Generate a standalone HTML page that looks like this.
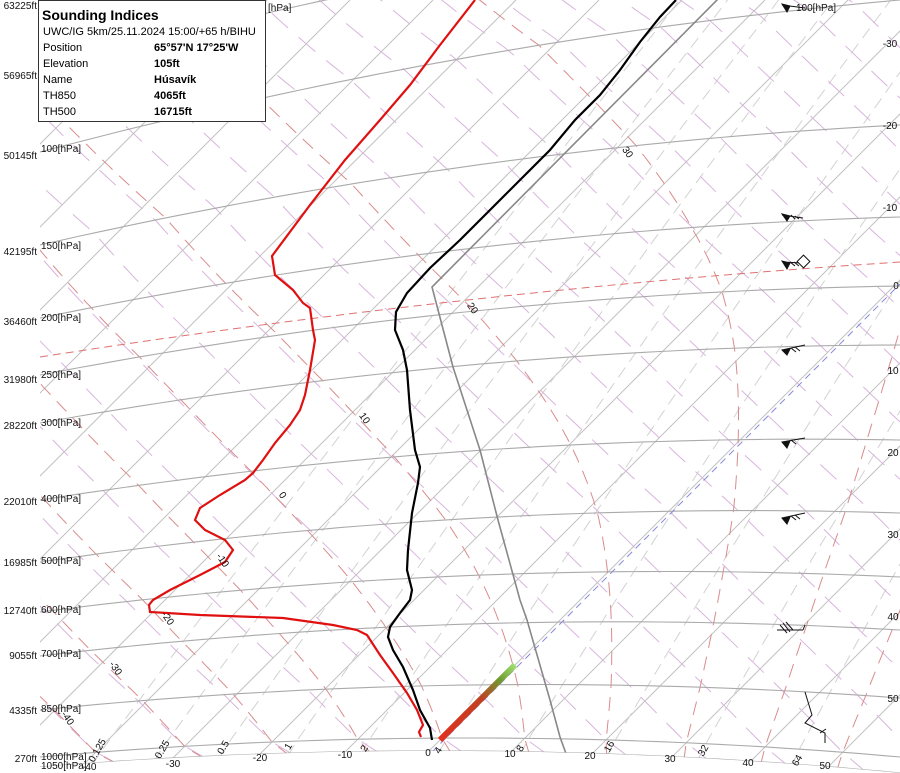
<!DOCTYPE html>
<html><head><meta charset="utf-8"><style>
html,body{margin:0;background:#fff;width:900px;height:773px;overflow:hidden;}
svg{display:block;overflow:hidden;font-family:"Liberation Sans",sans-serif;}
.ax{font-size:10px;fill:#111;}
</style></head><body>
<svg id="s" width="900" height="773" viewBox="0 0 900 773" xmlns="http://www.w3.org/2000/svg">
<defs>
<clipPath id="cp"><path id="cpp" d="M40 0H900V773H40Z"/></clipPath>
<linearGradient id="gr" x1="440" y1="740" x2="515" y2="665" gradientUnits="userSpaceOnUse">
<stop offset="0" stop-color="#e03020"/><stop offset="0.55" stop-color="#c04020"/><stop offset="0.8" stop-color="#709a30"/><stop offset="1" stop-color="#a0e070"/></linearGradient>
</defs>
<g id="grid" clip-path="url(#cp)"></g>
<g clip-path="url(#cp)">
<path d="M40 357 Q470 290 900 262" fill="none" stroke="#e07070" stroke-width="1" stroke-dasharray="8 5"/>
<line x1="432" y1="752" x2="900" y2="284" stroke="#8888dd" stroke-width="1" stroke-dasharray="7 5"/>
<line x1="440" y1="740" x2="515" y2="665" stroke="url(#gr)" stroke-width="6"/>
<polyline fill="none" stroke="#888" stroke-width="1.6" points="720,-3 432,287 453,367 480,450 498,520 520,600 527,620 550,700 560,737 573,773"/>
<polyline fill="none" stroke="#000" stroke-width="2.2" points="432,740 430,728 420,710 413,690 403,667 393,650 388,637 390,627 400,613 410,600 412,590 407,570 408,550 412,513 418,483 420,467 415,450 410,410 407,370 403,350 395,330 396,312 407,293 430,268 460,240 490,210 520,180 550,150 575,120 600,95 620,70 640,42 660,17 676,0"/>
<polyline fill="none" stroke="#e01010" stroke-width="2.2" points="421,737 419,732 423,725 417,710 407,693 393,673 380,655 367,635 357,630 333,625 283,618 200,615 150,612 149,605 153,600 170,590 200,575 225,562 233,550 225,540 205,530 195,520 200,508 220,495 245,480 253,473 263,460 275,443 290,425 300,410 305,395 310,370 315,340 313,330 310,308 303,303 293,290 275,275 272,256 310,205 345,160 380,120 410,85 440,45 475,0"/>
</g>
<g stroke="#111" stroke-width="1" fill="#111">
<path d="M782 5 L805 8 M782 4 L787 12 L790 6Z"/>
<path d="M782 215 L803 218 M782 214 L787 221 L790 216Z M791 215 L795 219 M795 216 L799 219"/>
<path d="M782 262 L803 263 M782 261 L787 269 L790 263Z M790 262 L795 266 M794 262 L799 266"/>
<rect x="799" y="257" width="9" height="9" transform="rotate(45 803.5 261.5)" fill="#fff"/>
<path d="M782 350 L805 345 M782 350 L787 355 L790 349Z M791 348 L796 352 M795 347 L800 351"/>
<path d="M782 442 L805 438 M782 442 L787 448 L790 441Z M791 440 L796 444"/>
<path d="M782 518 L805 513 M782 518 L787 524 L790 517Z M791 516 L796 520 M795 515 L800 519"/>
<path fill="none" d="M803 630 L805 625 M777 630 L803 630 M780 625 L787 633 M783 623 L790 632 M786 622 L793 630"/>
<path fill="none" d="M805 692 L812 715 L805 723 L825 733 L825 743 M820 733 L826 729"/>
</g>
<g class="ax" text-anchor="end">
<text x="37" y="9">63225ft</text><text x="37" y="79">56965ft</text><text x="37" y="159">50145ft</text>
<text x="37" y="255">42195ft</text><text x="37" y="325">36460ft</text><text x="37" y="383">31980ft</text>
<text x="37" y="429">28220ft</text><text x="37" y="505">22010ft</text><text x="37" y="566">16985ft</text>
<text x="37" y="614">12740ft</text><text x="37" y="659">9055ft</text><text x="37" y="714">4335ft</text>
<text x="37" y="762">270ft</text>
</g>
<g class="ax">
<text x="268" y="11">[hPa]</text><text x="796" y="11">100[hPa]</text>
<text x="41" y="152">100[hPa]</text><text x="41" y="249">150[hPa]</text><text x="41" y="321">200[hPa]</text>
<text x="41" y="378">250[hPa]</text><text x="41" y="426">300[hPa]</text><text x="41" y="502">400[hPa]</text>
<text x="41" y="564">500[hPa]</text><text x="41" y="613">600[hPa]</text><text x="41" y="657">700[hPa]</text>
<text x="41" y="712">850[hPa]</text><text x="41" y="760">1000[hPa]</text><text x="41" y="769">1050[hPa]</text>
<text x="82" y="770">-40</text>
</g>
<g class="ax" text-anchor="middle">
<text x="890" y="47">-30</text><text x="890" y="129">-20</text><text x="890" y="211">-10</text><text x="896" y="289">0</text>
<text x="893" y="374">10</text><text x="893" y="456">20</text><text x="893" y="538">30</text><text x="893" y="620">40</text><text x="893" y="702">50</text>
<text x="173" y="767">-30</text><text x="260" y="761">-20</text><text x="345" y="758">-10</text><text x="428" y="756">0</text>
<text x="510" y="757">10</text><text x="590" y="759">20</text><text x="670" y="762">30</text><text x="748" y="766">40</text><text x="825" y="769">50</text>
</g>
<g class="ax" text-anchor="middle">
<text transform="translate(100,752) rotate(-60)">0.125</text>
<text transform="translate(165,751) rotate(-60)">0.25</text>
<text transform="translate(226,749) rotate(-60)">0.5</text>
<text transform="translate(291,748) rotate(-60)">1</text>
<text transform="translate(367,750) rotate(-60)">2</text>
<text transform="translate(441,752) rotate(-60)">4</text>
<text transform="translate(523,750) rotate(-60)">8</text>
<text transform="translate(612,748) rotate(-60)">16</text>
<text transform="translate(706,752) rotate(-60)">32</text>
<text transform="translate(800,762) rotate(-60)">64</text>
<text transform="translate(65,720) rotate(55)">-40</text>
<text transform="translate(113,670) rotate(55)">-30</text>
<text transform="translate(165,620) rotate(55)">-20</text>
<text transform="translate(220,562) rotate(55)">-10</text>
<text transform="translate(280,497) rotate(55)">0</text>
<text transform="translate(362,420) rotate(55)">10</text>
<text transform="translate(470,310) rotate(55)">20</text>
<text transform="translate(625,154) rotate(55)">30</text>
</g>
<rect x="38.5" y="0.5" width="227" height="121" fill="#fff" stroke="#333" stroke-width="1"/>
<g fill="#000" font-size="11">
<text x="42" y="20" font-size="14" font-weight="bold">Sounding Indices</text>
<text x="43" y="35">UWC/IG 5km/25.11.2024 15:00/+65 h/BIHU</text>
<text x="43" y="51">Position</text><text x="154" y="51" font-weight="bold">65°57'N 17°25'W</text>
<text x="43" y="67">Elevation</text><text x="154" y="67" font-weight="bold">105ft</text>
<text x="43" y="83">Name</text><text x="154" y="83" font-weight="bold">Húsavík</text>
<text x="43" y="99">TH850</text><text x="154" y="99" font-weight="bold">4065ft</text>
<text x="43" y="115">TH500</text><text x="154" y="115" font-weight="bold">16715ft</text>
</g>
</svg>
<script>
(function(){
var LP=[1050,1000,850,700,600,500,400,300,250,200,150,100,70,50,30];
var YL=[767,757,710,656,612,562,500,423,375,318,245,152,70,-7,-120];
var YR=[773,757,698,630,577,513,440,345,286,217,125,0,-90,-170,-300];
function edge(p,arr){var l=Math.log(p);
 if(p>=LP[0]){var i=0;}else{for(var i=0;i<LP.length-2;i++){if(p<=LP[i]&&p>=LP[i+1])break;}}
 var a=Math.log(LP[i]),b=Math.log(LP[i+1]);var f=(l-a)/(b-a);return arr[i]+(arr[i+1]-arr[i])*f;}
function Y(p,x){var t=(x-40)/860;var yl=edge(p,YL),yr=edge(p,YR);return yl+(yr-yl)*t-76*t*(1-t);}
function X(T,y){return 1180+8.3*T-y;}
function pt(p,T){var y=Y(p,400),x;for(var k=0;k<6;k++){x=X(T,y);y=Y(p,x);}return [x,y];}
var g=document.getElementById('grid');var NS='http://www.w3.org/2000/svg';
function path(d,st,dash,w){var e=document.createElementNS(NS,'path');e.setAttribute('d',d);e.setAttribute('fill','none');e.setAttribute('stroke',st);e.setAttribute('stroke-width',w||1);if(dash)e.setAttribute('stroke-dasharray',dash);g.appendChild(e);}
function ptsToD(a){var s='';for(var i=0;i<a.length;i++){s+=(i?'L':'M')+a[i][0].toFixed(1)+' '+a[i][1].toFixed(1);}return s;}
var PS=[];for(var p=1060;p>=30;p*=0.97)PS.push(p);
var cd='M40 -10 L900 -10 ';for(var x=900;x>=40;x-=20)cd+='L'+x+' '+Y(1050,x).toFixed(1)+' ';cd+='Z';
document.getElementById('cpp').setAttribute('d',cd);
for(var T=-160;T<=80;T+=10){var c=1180+8.3*T;path('M'+(c-773)+' 773 L'+c+' 0','#c2c2c2',null,1);}
var W=[0.125,0.25,0.5,1,2,4,8,16,32,64];
W.forEach(function(w){var a=[];PS.forEach(function(p){if(p<60)return;var e=w*p/(622+w);var l=Math.log(e/6.112);var Td=243.5*l/(17.67-l);a.push(pt(p,Td));});path(ptsToD(a),'#d2d2d2','12 7',1);});
for(var th=-60;th<=260;th+=10){var a=[];PS.forEach(function(p){var T=(th+273.15)*Math.pow(p/1000,0.286)-273.15;a.push(pt(p,T));});path(ptsToD(a),'#d8b4dd','22 14',1);}
function es(Tc){return 6.112*Math.exp(17.67*Tc/(Tc+243.5));}
function dTdp(T,p){var Tc=T-273.15;var e=es(Tc);var rs=0.622*e/(p-e);return (287*T+2.5e6*rs)/(p*(1005+2.5e6*2.5e6*rs*0.622/(287*T*T)));}
for(var tw=-40;tw<=50;tw+=10){var a=[];var T=tw+273.15,p=1000;
 var T2=T,p2=1000;while(p2<1060){T2+=dTdp(T2,p2)*2;p2+=2;}a.push(pt(p2,T2-273.15));
 var b=[];while(p>40){b.push(pt(p,T-273.15));T-=dTdp(T,p)*2;p-=2;}
 path(ptsToD(a.concat(b)),'#d98b8b','14 9',1);}
[1050,1000,850,700,600,500,400,300,250,200,150,100,70,50].forEach(function(p){var a=[];for(var x=40;x<=900;x+=20)a.push([x,Y(p,x)]);path(ptsToD(a),'#aaaaaa',null,1.1);});
})();
</script>
</body></html>
